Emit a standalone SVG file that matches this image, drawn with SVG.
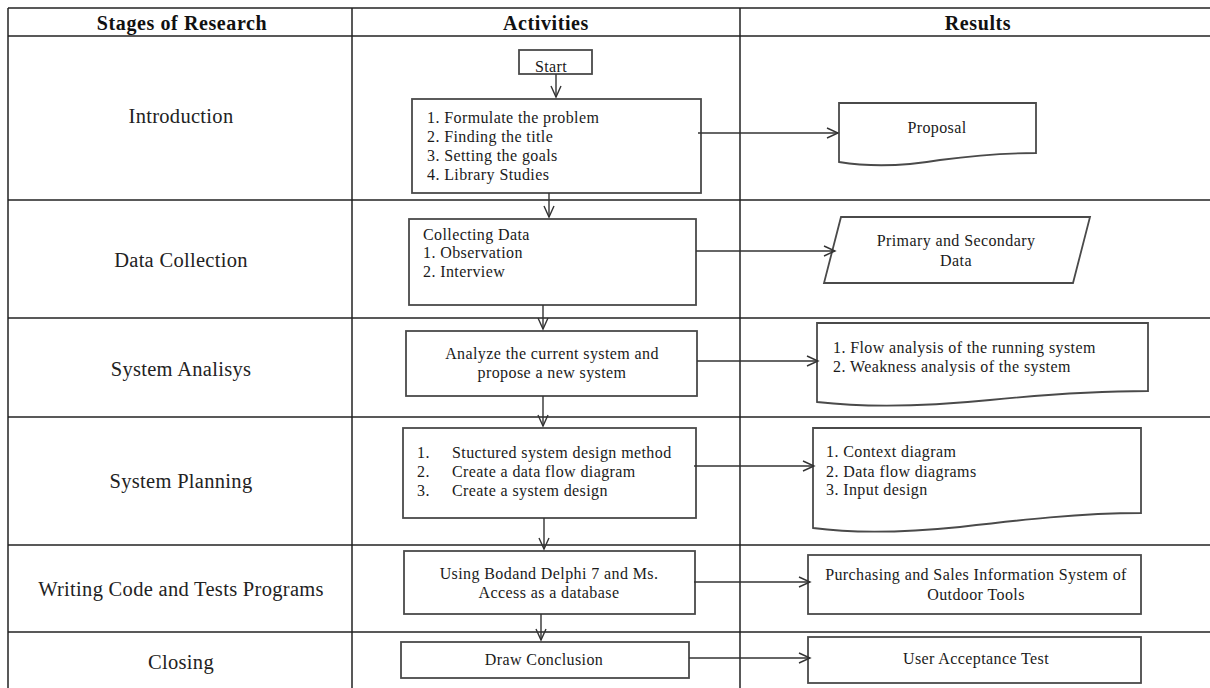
<svg xmlns="http://www.w3.org/2000/svg" width="1210" height="688" viewBox="0 0 1210 688">
  <style>
    .grid { stroke: #222; stroke-width: 1.5; fill: none; }
    .head { font-family: "Liberation Serif", serif; font-size: 20px; font-weight: bold; letter-spacing: 0.6px; fill: #111; text-anchor: middle; }
    .stage { font-family: "Liberation Serif", serif; font-size: 20.5px; letter-spacing: 0.3px; fill: #222; text-anchor: middle; }
    .box { fill: #fff; stroke: #4a4a4a; stroke-width: 1.8; }
    .txt { font-family: "Liberation Serif", serif; font-size: 16px; letter-spacing: 0.4px; fill: #1a1a1a; }
    .mid { text-anchor: middle; }
    .conn { stroke: #333; stroke-width: 1.4; fill: none; marker-end: url(#arrow); }
  </style>
  <defs>
    <marker id="arrow" markerUnits="userSpaceOnUse" markerWidth="14" markerHeight="14" refX="12" refY="6.5" orient="auto">
      <path d="M1,1.5 L12,6.5 L1,11.5" fill="none" stroke="#333" stroke-width="1.4"/>
    </marker>
  </defs>

  <rect width="1210" height="688" fill="#fff"/>

  <!-- table grid -->
  <g id="table">
    <line class="grid" x1="8" y1="8" x2="1210" y2="8"/>
    <line class="grid" x1="8" y1="36" x2="1210" y2="36" stroke-width="2" stroke="#444"/>
    <line class="grid" x1="8" y1="8" x2="8" y2="688"/>
    <line class="grid" x1="352" y1="8" x2="352" y2="688"/>
    <line class="grid" x1="740" y1="8" x2="740" y2="688"/>
    <line class="grid" x1="8" y1="200" x2="1210" y2="200"/>
    <line class="grid" x1="8" y1="318" x2="1210" y2="318"/>
    <line class="grid" x1="8" y1="417" x2="1210" y2="417"/>
    <line class="grid" x1="8" y1="545" x2="1210" y2="545"/>
    <line class="grid" x1="8" y1="632" x2="1210" y2="632"/>
    <text class="head" x="182" y="30">Stages of Research</text>
    <text class="head" x="546" y="30">Activities</text>
    <text class="head" x="978" y="30">Results</text>
  </g>

  <!-- stage labels -->
  <g id="stages">
    <text class="stage" x="181" y="123">Introduction</text>
    <text class="stage" x="181" y="267">Data Collection</text>
    <text class="stage" x="181" y="376">System Analisys</text>
    <text class="stage" x="181" y="488">System Planning</text>
    <text class="stage" x="181" y="596">Writing Code and Tests Programs</text>
    <text class="stage" x="181" y="669">Closing</text>
  </g>

  <!-- activity column -->
  <g id="start">
    <rect class="box" x="519" y="50" width="73" height="24"/>
    <text class="txt mid" x="551" y="72" font-size="14">Start</text>
  </g>
  <g id="act-intro">
    <rect class="box" x="412" y="99" width="289" height="94"/>
    <text class="txt" x="427" y="123">1. Formulate the problem</text>
    <text class="txt" x="427" y="142">2. Finding the title</text>
    <text class="txt" x="427" y="161">3. Setting the goals</text>
    <text class="txt" x="427" y="180">4. Library Studies</text>
  </g>
  <g id="act-collect">
    <rect class="box" x="409" y="219" width="287" height="86"/>
    <text class="txt" x="423" y="240">Collecting Data</text>
    <text class="txt" x="423" y="258">1. Observation</text>
    <text class="txt" x="423" y="277">2. Interview</text>
  </g>
  <g id="act-analysis">
    <rect class="box" x="406" y="331" width="291" height="65"/>
    <text class="txt mid" x="552" y="359">Analyze the current system and</text>
    <text class="txt mid" x="552" y="378">propose a new system</text>
  </g>
  <g id="act-planning">
    <rect class="box" x="403" y="428" width="293" height="90"/>
    <text class="txt" x="417" y="458">1.</text>
    <text class="txt" x="452" y="458">Stuctured system design  method</text>
    <text class="txt" x="417" y="477">2.</text>
    <text class="txt" x="452" y="477">Create a data flow diagram</text>
    <text class="txt" x="417" y="496">3.</text>
    <text class="txt" x="452" y="496">Create a system design</text>
  </g>
  <g id="act-coding">
    <rect class="box" x="404" y="551" width="291" height="63"/>
    <text class="txt mid" x="549" y="579">Using Bodand Delphi 7 and Ms.</text>
    <text class="txt mid" x="549" y="598">Access  as a database</text>
  </g>
  <g id="act-closing">
    <rect class="box" x="401" y="642" width="288" height="36"/>
    <text class="txt mid" x="544" y="665">Draw Conclusion</text>
  </g>

  <!-- results column -->
  <g id="res-proposal">
    <path class="box" d="M839,103 H1036 V153 C1000,153 970,156 940,160 C905,166 870,167 839,162 Z"/>
    <text class="txt mid" x="937" y="133">Proposal</text>
  </g>
  <g id="res-data">
    <path class="box" d="M841,217 H1090 L1073,283 H824 Z"/>
    <text class="txt mid" x="956" y="246">Primary and Secondary</text>
    <text class="txt mid" x="956" y="266">Data</text>
  </g>
  <g id="res-analysis">
    <path class="box" d="M817,323 H1148 V391 C1090,391 1040,395 990,400 C930,406 870,408 817,402 Z"/>
    <text class="txt" x="833" y="353">1. Flow analysis of the running system</text>
    <text class="txt" x="833" y="372">2. Weakness analysis of the system</text>
  </g>
  <g id="res-planning">
    <path class="box" d="M813,428 H1141 V513 C1080,513 1020,520 960,527 C900,533 850,533 813,528 Z"/>
    <text class="txt" x="826" y="457">1. Context diagram</text>
    <text class="txt" x="826" y="477">2. Data flow diagrams</text>
    <text class="txt" x="826" y="495">3. Input design</text>
  </g>
  <g id="res-system">
    <rect class="box" x="808" y="555" width="333" height="59"/>
    <text class="txt mid" x="976" y="580">Purchasing and Sales Information System of</text>
    <text class="txt mid" x="976" y="600">Outdoor Tools</text>
  </g>
  <g id="res-uat">
    <rect class="box" x="808" y="637" width="333" height="46"/>
    <text class="txt mid" x="976" y="664">User Acceptance Test</text>
  </g>

  <!-- connectors -->
  <g id="connectors">
    <line class="conn" x1="556" y1="74" x2="556" y2="97"/>
    <line class="conn" x1="549" y1="193" x2="549" y2="217"/>
    <line class="conn" x1="543" y1="305" x2="543" y2="329"/>
    <line class="conn" x1="543" y1="396" x2="543" y2="426"/>
    <line class="conn" x1="544" y1="518" x2="544" y2="549"/>
    <line class="conn" x1="541" y1="614" x2="541" y2="640"/>
    <line class="conn" x1="698" y1="133" x2="838" y2="133"/>
    <line class="conn" x1="696" y1="251" x2="835" y2="251"/>
    <line class="conn" x1="697" y1="361" x2="818" y2="361"/>
    <line class="conn" x1="694" y1="466" x2="814" y2="466"/>
    <line class="conn" x1="694" y1="582" x2="810" y2="582"/>
    <line class="conn" x1="689" y1="658" x2="810" y2="658"/>
  </g>
</svg>
